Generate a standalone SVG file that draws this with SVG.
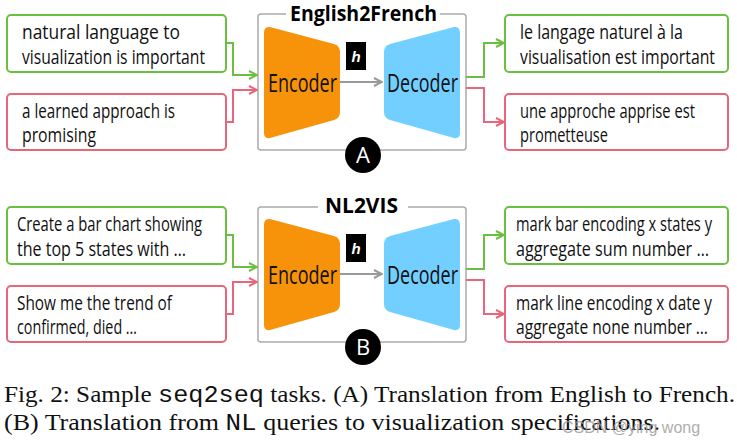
<svg xmlns="http://www.w3.org/2000/svg" width="737" height="446" viewBox="0 0 737 446">
<defs>
<style>
.t{font-family:"Open Sans","Liberation Sans",sans-serif;font-size:20px;fill:#111}
.g{fill:#fff;stroke:#6abf3f;stroke-width:2}
.r{fill:#fff;stroke:#e8657a;stroke-width:2}
.frame{fill:#fff;stroke:#aaa;stroke-width:1.5}
.ttl{font-family:"Open Sans","Liberation Sans",sans-serif;font-weight:bold;font-size:21px}
.ed{font-family:"Open Sans","Liberation Sans",sans-serif;font-size:25px;fill:#111}
.cg{fill:none;stroke:#6abf3f;stroke-width:2}
.cr{fill:none;stroke:#e8657a;stroke-width:2}
.cap{font-family:"Liberation Serif",serif;font-size:23px;fill:#111}
</style>
<marker id="ag" viewBox="0 0 10 10" refX="9" refY="5" markerWidth="5" markerHeight="5" orient="auto"><path d="M1,1 L9,5 L1,9" fill="none" stroke="#6abf3f" stroke-width="2"/></marker>
<marker id="ar" viewBox="0 0 10 10" refX="9" refY="5" markerWidth="5" markerHeight="5" orient="auto"><path d="M1,1 L9,5 L1,9" fill="none" stroke="#e8657a" stroke-width="2"/></marker>
<marker id="ah" viewBox="0 0 10 10" refX="9" refY="5" markerWidth="5" markerHeight="5" orient="auto"><path d="M1,1 L9,5 L1,9" fill="none" stroke="#999" stroke-width="2"/></marker>
</defs>
<rect width="737" height="446" fill="#fff"/>
<g id="panelA">
<rect class="frame" x="258" y="14" width="208" height="136" rx="3"/>
<rect x="286" y="2" width="154" height="22" fill="#fff"/>
<text class="ttl" x="290" y="21" textLength="147" lengthAdjust="spacingAndGlyphs">English2French</text>
<path d="M270,27 L334,44 Q340,46 340,52 L340,112 Q340,118 334,120 L270,138 Q264,139 264,133 L264,33 Q264,26 270,27Z" fill="#f7930a"/>
<text class="ed" x="268" y="92" textLength="69" lengthAdjust="spacingAndGlyphs">Encoder</text>
<path d="M454,27 L390,44 Q384,46 384,52 L384,112 Q384,118 390,120 L454,138 Q460,139 460,133 L460,33 Q460,26 454,27Z" fill="#73cfff"/>
<text class="ed" x="387" y="92" textLength="71" lengthAdjust="spacingAndGlyphs">Decoder</text>
<rect x="346" y="42" width="20" height="28" fill="#000"/>
<text x="356" y="62" font-family="Liberation Sans,sans-serif" font-weight="bold" font-style="italic" font-size="15" fill="#fff" text-anchor="middle">h</text>
<circle cx="363" cy="155" r="18" fill="#000"/>
<text x="363" y="163" font-family="Open Sans,sans-serif" font-size="22" fill="#fff" text-anchor="middle">A</text>
</g>
<g id="inA1"><rect class="g" x="7" y="15" width="219" height="57" rx="4"/><text class="t" x="22" y="39" textLength="158" lengthAdjust="spacingAndGlyphs">natural language to</text><text class="t" x="22" y="64" textLength="183" lengthAdjust="spacingAndGlyphs">visualization is important</text></g>
<g id="inA2"><rect class="r" x="7" y="94" width="219" height="56" rx="4"/><text class="t" x="22" y="118" textLength="153" lengthAdjust="spacingAndGlyphs">a learned approach is</text><text class="t" x="22" y="142" textLength="74" lengthAdjust="spacingAndGlyphs">promising</text></g>
<g id="outA1"><rect class="g" x="505" y="15" width="223" height="57" rx="4"/><text class="t" x="520" y="39" textLength="163" lengthAdjust="spacingAndGlyphs">le langage naturel à la</text><text class="t" x="520" y="64" textLength="195" lengthAdjust="spacingAndGlyphs">visualisation est important</text></g>
<g id="outA2"><rect class="r" x="505" y="94" width="223" height="56" rx="4"/><text class="t" x="520" y="118" textLength="175" lengthAdjust="spacingAndGlyphs">une approche apprise est</text><text class="t" x="520" y="142" textLength="88" lengthAdjust="spacingAndGlyphs">prometteuse</text></g>
<g id="panelB">
<rect class="frame" x="258" y="207" width="208" height="135" rx="3"/>
<rect x="318" y="195" width="90" height="22" fill="#fff"/>
<text class="ttl" x="325" y="213" textLength="73" lengthAdjust="spacingAndGlyphs">NL2VIS</text>
<path d="M270,219 L334,236 Q340,238 340,244 L340,304 Q340,310 334,312 L270,330 Q264,331 264,325 L264,225 Q264,218 270,219Z" fill="#f7930a"/>
<text class="ed" x="268" y="284" textLength="69" lengthAdjust="spacingAndGlyphs">Encoder</text>
<path d="M454,219 L390,236 Q384,238 384,244 L384,304 Q384,310 390,312 L454,330 Q460,331 460,325 L460,225 Q460,218 454,219Z" fill="#73cfff"/>
<text class="ed" x="387" y="284" textLength="71" lengthAdjust="spacingAndGlyphs">Decoder</text>
<rect x="346" y="234" width="20" height="28" fill="#000"/>
<text x="356" y="254" font-family="Liberation Sans,sans-serif" font-weight="bold" font-style="italic" font-size="15" fill="#fff" text-anchor="middle">h</text>
<circle cx="363" cy="347" r="18" fill="#000"/>
<text x="363" y="355" font-family="Open Sans,sans-serif" font-size="22" fill="#fff" text-anchor="middle">B</text>
</g>
<g id="inB1"><rect class="g" x="7" y="207" width="219" height="57" rx="4"/><text class="t" x="17" y="231" textLength="185" lengthAdjust="spacingAndGlyphs">Create a bar chart showing</text><text class="t" x="17" y="256" textLength="169" lengthAdjust="spacingAndGlyphs">the top 5 states with …</text></g>
<g id="inB2"><rect class="r" x="7" y="286" width="219" height="56" rx="4"/><text class="t" x="17" y="310" textLength="155" lengthAdjust="spacingAndGlyphs">Show me the trend of</text><text class="t" x="17" y="334" textLength="120" lengthAdjust="spacingAndGlyphs">confirmed, died …</text></g>
<g id="outB1"><rect class="g" x="505" y="207" width="223" height="57" rx="4"/><text class="t" x="516" y="231" textLength="196" lengthAdjust="spacingAndGlyphs">mark bar encoding x states y</text><text class="t" x="516" y="256" textLength="193" lengthAdjust="spacingAndGlyphs">aggregate sum number …</text></g>
<g id="outB2"><rect class="r" x="505" y="286" width="223" height="56" rx="4"/><text class="t" x="516" y="310" textLength="196" lengthAdjust="spacingAndGlyphs">mark line encoding x date y</text><text class="t" x="516" y="334" textLength="192" lengthAdjust="spacingAndGlyphs">aggregate none number …</text></g>
<g id="connectors">
<path class="cg" d="M226,43 H233 V75 H257" marker-end="url(#ag)"/>
<path class="cr" d="M226,122 H233 V90 H257" marker-end="url(#ar)"/>
<path class="cg" d="M466,77 H484 V43 H504" marker-end="url(#ag)"/>
<path class="cr" d="M466,88 H484 V122 H504" marker-end="url(#ar)"/>
<path d="M340,82 H382" stroke="#999" stroke-width="2" marker-end="url(#ah)"/>
<path class="cg" d="M226,235 H233 V267 H257" marker-end="url(#ag)"/>
<path class="cr" d="M226,314 H233 V282 H257" marker-end="url(#ar)"/>
<path class="cg" d="M466,269 H484 V235 H504" marker-end="url(#ag)"/>
<path class="cr" d="M466,280 H484 V314 H504" marker-end="url(#ar)"/>
<path d="M340,274 H382" stroke="#999" stroke-width="2" marker-end="url(#ah)"/>
</g>
<text class="cap" x="4" y="402" textLength="731" lengthAdjust="spacingAndGlyphs">Fig. 2: Sample <tspan font-family="Liberation Mono,monospace">seq2seq</tspan> tasks. (A) Translation from English to French.</text>
<text class="cap" x="4" y="430" textLength="656" lengthAdjust="spacingAndGlyphs">(B) Translation from <tspan font-family="Liberation Mono,monospace">NL</tspan> queries to visualization specifications.</text>
<text x="562" y="433" font-family="Liberation Sans,sans-serif" font-size="16" fill="#999" opacity="0.8">CSDN @ying wong</text>
</svg>
